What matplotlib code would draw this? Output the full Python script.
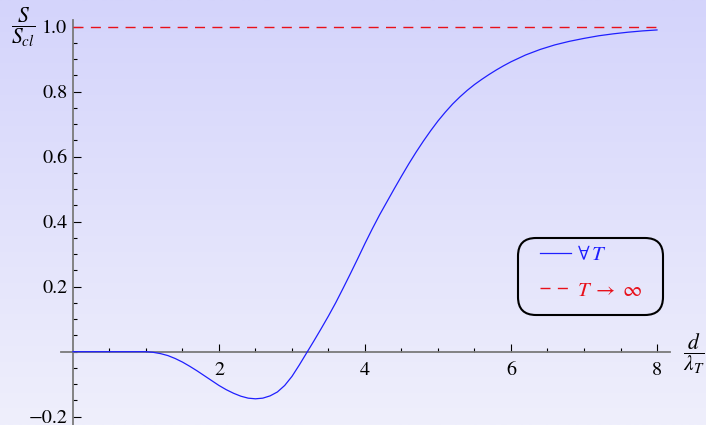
import matplotlib
matplotlib.use("Agg")
import matplotlib.pyplot as plt
import numpy as np
from matplotlib.colors import LinearSegmentedColormap
from matplotlib.patches import FancyBboxPatch
from matplotlib.transforms import IdentityTransform

plt.rcParams["font.family"] = "serif"
plt.rcParams["font.serif"] = ["STIXGeneral", "Liberation Serif", "DejaVu Serif"]
plt.rcParams["mathtext.fontset"] = "stix"

# Entropy ratio S/S_cl as a function of d/lambda_T
d_over_lambda = [0.0, 0.5, 0.9, 1.0, 1.1, 1.2, 1.3, 1.4, 1.5, 1.6, 1.7, 1.8, 1.9,
                 2.0, 2.1, 2.2, 2.3, 2.4, 2.5, 2.6, 2.7, 2.8, 2.9,
                 3.0, 3.1, 3.2, 3.3, 3.4, 3.5, 3.6, 3.7, 3.8, 3.9,
                 4.0, 4.1, 4.2, 4.3, 4.4, 4.5, 4.6, 4.7, 4.8, 4.9,
                 5.0, 5.1, 5.2, 5.3, 5.4, 5.5, 5.6, 5.7, 5.8, 5.9,
                 6.0, 6.2, 6.4, 6.6, 6.8, 7.0, 7.2, 7.4, 7.6, 7.8, 8.0]
s_ratio = [0.0, 0.0, 0.0, 0.0, -0.002, -0.006, -0.012, -0.021, -0.032, -0.045, -0.059, -0.074, -0.089,
           -0.104, -0.117, -0.128, -0.137, -0.143, -0.145, -0.143, -0.136, -0.124, -0.104,
           -0.076, -0.041, -0.004, 0.033, 0.071, 0.110, 0.151, 0.195, 0.240, 0.286,
           0.333, 0.378, 0.421, 0.461, 0.501, 0.540, 0.578, 0.614, 0.648, 0.680,
           0.710, 0.737, 0.762, 0.784, 0.804, 0.822, 0.838, 0.853, 0.867, 0.880,
           0.892, 0.913, 0.930, 0.944, 0.955, 0.964, 0.972, 0.978, 0.983, 0.987, 0.990]

# Classical limit
limit_x = [0.0, 8.0]
limit_y = [1.0, 1.0]

x_ticks = [2, 4, 6, 8]
x_tick_labels = ["2", "4", "6", "8"]
y_ticks = [-0.2, 0.2, 0.4, 0.6, 0.8, 1.0]
y_tick_labels = ["\u22120.2", "0.2", "0.4", "0.6", "0.8", "1.0"]

legend_labels = [r"$\forall\,T$", r"$T\;\rightarrow\;\infty$"]

W, H = 706, 425
fig = plt.figure(figsize=(W / 100, H / 100), dpi=100)

# soft lavender background, darker at the top
bg = fig.add_axes([0, 0, 1, 1], zorder=-10)
grad = np.linspace(0, 1, 256).reshape(-1, 1)
cmap = LinearSegmentedColormap.from_list("bg", ["#d4d4fb", "#efeffc"])
bg.imshow(grad, aspect="auto", extent=[0, 1, 0, 1], cmap=cmap, origin="upper")
bg.axis("off")

left_px, right_px, top_px, bottom_px = 61, 670, 20, 425
ax = fig.add_axes([left_px / W, 1 - bottom_px / H,
                   (right_px - left_px) / W, (bottom_px - top_px) / H])
ax.set_facecolor("none")
ax.set_xlim(-0.164, 8.178)
ax.set_ylim(-0.2256, 1.0206)

for side in ("top", "right"):
    ax.spines[side].set_visible(False)
ax.spines["left"].set_position(("data", 0))
ax.spines["bottom"].set_position(("data", 0))
for side in ("left", "bottom"):
    ax.spines[side].set_color("#7a7a7a")
    ax.spines[side].set_linewidth(1.3)

ax.set_xticks(x_ticks)
ax.set_xticklabels(x_tick_labels)
ax.set_yticks(y_ticks)
ax.set_yticklabels(y_tick_labels)
ax.set_xticks(np.arange(0.5, 8.01, 0.5), minor=True)
ax.set_yticks(np.arange(-0.2, 1.001, 0.05), minor=True)
ax.tick_params(which="both", direction="in", color="black", width=0.8,
               labelsize=14.5)
ax.tick_params(which="major", length=5.5)
ax.tick_params(which="minor", length=3)
ax.tick_params(axis="x", pad=7)
ax.tick_params(axis="y", pad=4)

curve, = ax.plot(d_over_lambda, s_ratio, color="#1f1fff", lw=0.9, zorder=3)
limit, = ax.plot(limit_x, limit_y, color="#e8101a", lw=1.0, zorder=3)
limit.set_dashes((7.2, 5.3))

ax.legend([curve, limit], legend_labels, loc="center",
          bbox_to_anchor=((591 - left_px) / (right_px - left_px),
                          (bottom_px - 273) / (bottom_px - top_px)),
          frameon=False, fontsize=15, handlelength=1.5, handletextpad=0.3,
          labelspacing=0.75, labelcolor="linecolor")

# rounded frame around the legend (pixel coordinates)
frame = FancyBboxPatch((518, H - 315), 145, 77,
                       boxstyle="round,pad=0,rounding_size=18",
                       transform=IdentityTransform(), fill=False,
                       ec="black", lw=1.5)
fig.add_artist(frame)

fig.text(23 / W, 1 - 27 / H, r"$\dfrac{S}{S_{cl}}$", ha="center", va="center",
         fontsize=15.5)
fig.text(694 / W, 1 - 354 / H, r"$\dfrac{d}{\lambda_T}$", ha="center", va="center",
         fontsize=15.5)

fig.savefig("out.png", dpi=100)
